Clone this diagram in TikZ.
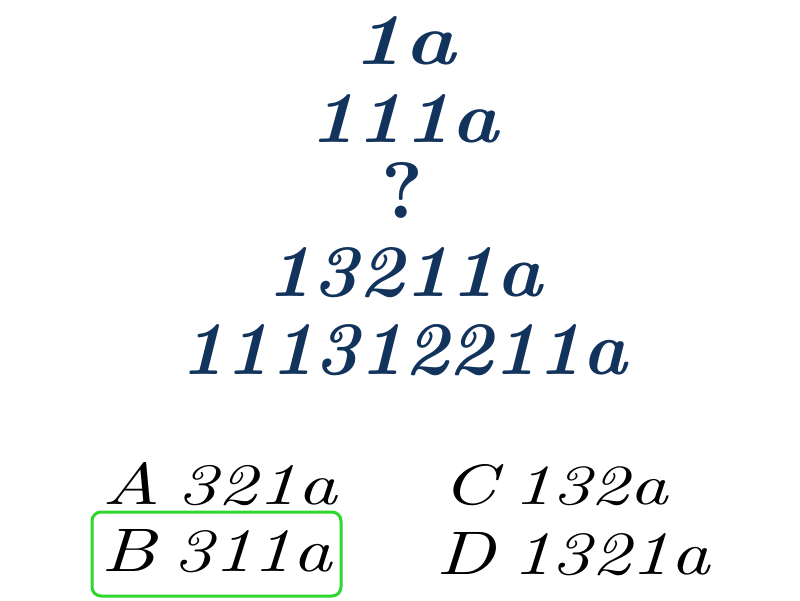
\documentclass[tikz,border=0pt]{standalone}
\definecolor{seqcol}{RGB}{18,52,92}
\definecolor{boxgreen}{RGB}{45,215,45}
\newcommand{\fitSeq}[3]{\resizebox{#1pt}{#2pt}{\bfseries\itshape #3}}
\newcommand{\fitQ}[3]{\resizebox{#1pt}{#2pt}{\bfseries #3}}
\newcommand{\fitAns}[3]{\resizebox{#1pt}{#2pt}{\itshape #3}}
\newcommand{\gap}{\kern0.22em}
\begin{document}
\begin{tikzpicture}[x=1pt,y=-1pt,
  seq/.style={inner sep=0pt, text=seqcol},
  ans/.style={inner sep=0pt, text=black},
  answerbox/.style={draw=boxgreen, line width=3pt, rounded corners=9pt, inner sep=0pt}]
\useasboundingbox (0,0) rectangle (800,600);
% sequence
\node[seq] (l1) at (404,41) {\fitSeq{102}{48}{1a}};
\node[seq] (l2) at (404,119) {\fitSeq{188}{48}{111a}};
\node[seq] (l3) at (402.5,190) {\fitQ{42}{56}{?}};
\node[seq] (l4) at (404.5,272.5) {\fitSeq{275}{49}{13211a}};
\node[seq] (l5) at (404,350) {\fitSeq{446}{50}{111312211a}};
% answers
\node[ans] (a) at (220,484) {\fitAns{234}{42}{A\gap 321a}};
\node[ans] (b) at (217,551) {\fitAns{230}{42}{B\gap 311a}};
\node[ans] (c) at (555.5,485) {\fitAns{225}{40}{C\gap 132a}};
\node[ans] (d) at (573.5,554) {\fitAns{273}{42}{D\gap 1321a}};
\node[answerbox, minimum width=249pt, minimum height=84pt] (box) at (216.5,554) {};
\end{tikzpicture}
\end{document}
